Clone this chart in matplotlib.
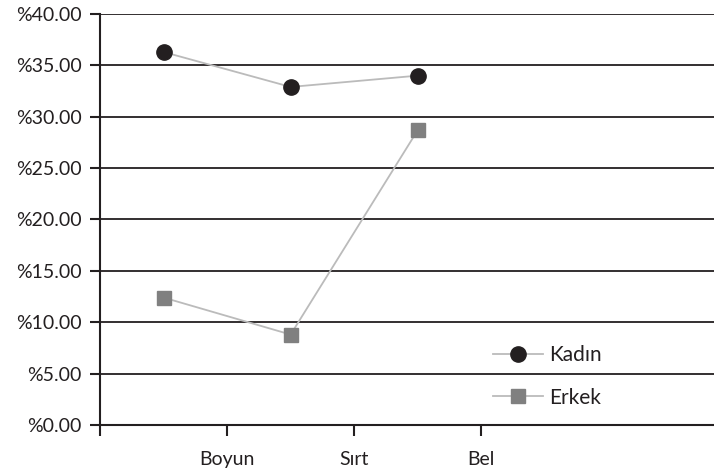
import matplotlib.pyplot as plt

# body region shares
regions = ["Boyun", "Sırt", "Bel"]
kadin = [36.3, 32.9, 34.0]
erkek = [12.4, 8.8, 28.7]
yticks = [0, 5, 10, 15, 20, 25, 30, 35, 40]

plt.rcParams['font.family'] = ['Lato', 'DejaVu Sans']
ink = "#231f20"

fig = plt.figure(figsize=(7.14, 4.74), dpi=100)
ax = fig.add_axes([0.14, 0.1034, 0.86, 0.8671])

pos = [i + 0.5 for i in range(len(regions))]
ax.plot(pos, kadin, color="#bbbbbb", lw=1.3, marker="o", ms=11,
        mfc=ink, mec=ink, label="Kadın", zorder=3)
ax.plot(pos, erkek, color="#bbbbbb", lw=1.3, marker="s", ms=10.5,
        mfc="#808080", mec="#808080", label="Erkek", zorder=3)

ax.set_xlim(0, 4.83)
ax.set_ylim(0, 40)
ax.set_yticks(yticks)
ax.set_yticklabels(["%{:.2f}".format(v) for v in yticks])
ax.set_xticks([0, 1, 2, 3])
ax.set_xticklabels([""] + regions)

for v in yticks[1:]:
    ax.axhline(v, color=ink, lw=1.3, zorder=1)

for s in ["top", "right"]:
    ax.spines[s].set_visible(False)
for s in ["left", "bottom"]:
    ax.spines[s].set_color(ink)
    ax.spines[s].set_linewidth(1.5)

ax.tick_params(axis="y", direction="out", length=7, width=1.5, color=ink,
               labelsize=14, labelcolor=ink, pad=6)
ax.tick_params(axis="x", direction="out", length=8, width=1.5, color=ink,
               labelsize=14, labelcolor=ink, pad=11)

leg = ax.legend(loc="upper left", bbox_to_anchor=(0.64, 0.195), frameon=False,
                fontsize=15, handlelength=2.4, labelspacing=1.1,
                handletextpad=0.3, borderaxespad=0, borderpad=0)
for t in leg.get_texts():
    t.set_color(ink)

fig.savefig("out.png", dpi=100)
